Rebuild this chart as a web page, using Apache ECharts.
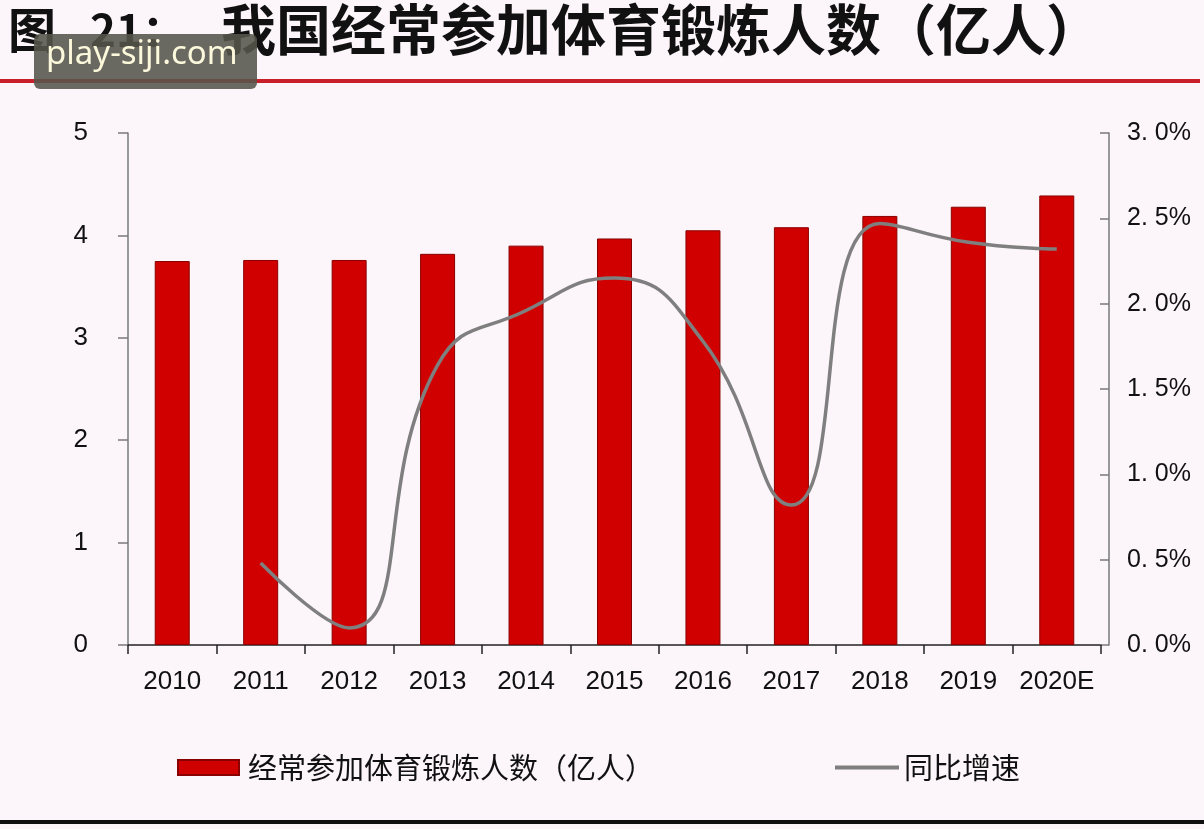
<!DOCTYPE html>
<html>
<head>
<meta charset="utf-8">
<script src="https://cdn.jsdelivr.net/npm/echarts@6/dist/echarts.min.js"></script>
<style>
html,body{margin:0;padding:0;background:#fcf5f9;}
#chart{width:1204px;height:829px;}
</style>
</head>
<body>
<div id="chart"></div>
<script>
const categories = ['2010','2011','2012','2013','2014','2015','2016','2017','2018','2019','2020E'];
const peopleValues = [3.75, 3.76, 3.76, 3.82, 3.90, 3.97, 4.05, 4.08, 4.19, 4.28, 4.39];
const growthValues = [null, 0.48, 0.10, 1.64, 1.96, 2.15, 1.78, 0.82, 2.47, 2.36, 2.32];
const leftTicks = { min: 0, max: 5, interval: 1 };
const rightTicks = { min: 0, max: 3, interval: 0.5 };
const barName = '经常参加体育锻炼人数（亿人）';
const lineName = '同比增速';
const titleLead = '图';
const titleNum = '21：';
const titleMain = '我国经常参加体育锻炼人数（亿人）';
const watermark = 'play-siji.com';

const chart = echarts.init(document.getElementById('chart'), null, {renderer: 'canvas'});
const latin = '"Liberation Sans", Arial, sans-serif';
const cjk = '"Noto Sans CJK SC", sans-serif';

chart.setOption({
  backgroundColor: '#fcf5f9',
  animation: false,
  grid: { left: 128, right: 103, top: 133, bottom: 184, containLabel: false },
  legend: [
    {
      left: 172, top: 748, itemWidth: 61, itemHeight: 15, icon: 'rect',
      data: [barName],
      textStyle: { fontFamily: cjk, fontSize: 29, color: '#111', padding: [0,0,0,4] }
    },
    {
      left: 830, top: 748, itemWidth: 64, itemHeight: 4, icon: 'rect',
      data: [{ name: lineName, itemStyle: { color: '#7f7f7f' } }],
      textStyle: { fontFamily: cjk, fontSize: 29, color: '#111', padding: [0,0,0,0] }
    }
  ],
  xAxis: {
    type: 'category',
    data: categories,
    axisLine: { lineStyle: { color: '#222', width: 1.5 } },
    axisTick: { show: true, interval: 0, length: 9, lineStyle: { color: '#222', width: 1.5 } },
    axisLabel: { interval: 0, fontFamily: latin, fontSize: 26, color: '#111', margin: 24 }
  },
  yAxis: [
    {
      type: 'value', min: leftTicks.min, max: leftTicks.max, interval: leftTicks.interval,
      splitLine: { show: false },
      axisLine: { show: true, lineStyle: { color: '#7a7a7a', width: 1.5 } },
      axisTick: { show: true, length: 10, lineStyle: { color: '#7a7a7a', width: 1.5 } },
      axisLabel: { fontFamily: latin, fontSize: 26, color: '#111', margin: 40 }
    },
    {
      type: 'value', min: rightTicks.min, max: rightTicks.max, interval: rightTicks.interval,
      position: 'right', offset: 8,
      splitLine: { show: false },
      axisLine: { show: true, lineStyle: { color: '#7a7a7a', width: 1.5 } },
      axisTick: { show: true, inside: true, length: 9, lineStyle: { color: '#7a7a7a', width: 1.5 } },
      axisLabel: {
        fontFamily: latin, fontSize: 25, color: '#111', margin: 18,
        formatter: v => v.toFixed(1).replace('.', '. ') + '%'
      }
    }
  ],
  series: [
    {
      name: barName, type: 'bar', data: peopleValues, barWidth: 35, yAxisIndex: 0,
      itemStyle: { color: '#d00000', borderColor: '#8a0000', borderWidth: 1 }
    },
    {
      name: lineName, type: 'line', data: growthValues, yAxisIndex: 1, smooth: 0.5,
      symbol: 'none', connectNulls: false,
      lineStyle: { color: '#7f7f7f', width: 3.5 },
      itemStyle: { color: '#7f7f7f' }
    }
  ],
  graphic: [
    { type: 'text', left: 8, top: 6, style: { text: titleLead, font: 'bold 48px ' + cjk, fill: '#111' } },
    { type: 'text', left: 90, top: 8, style: { text: titleNum, font: 'bold 44px ' + cjk, fill: '#111' } },
    { type: 'text', left: 221, top: 2, style: { text: titleMain, font: 'bold 55px ' + cjk, fill: '#111' } },
    { type: 'rect', shape: { x: 0, y: 79, width: 1200, height: 4 }, style: { fill: '#c8202a' } },
    { type: 'rect', shape: { x: 0, y: 820, width: 1204, height: 4 }, style: { fill: '#111' } },
    { type: 'rect', z: 100, shape: { x: 34, y: 34, width: 223, height: 55, r: 6 }, style: { fill: 'rgba(85,85,75,0.88)' } },
    { type: 'text', z: 101, left: 46, top: 38, style: { text: watermark, font: '33px "Noto Sans", sans-serif', fill: '#fbf8dc' } }
  ]
});
</script>
</body>
</html>
